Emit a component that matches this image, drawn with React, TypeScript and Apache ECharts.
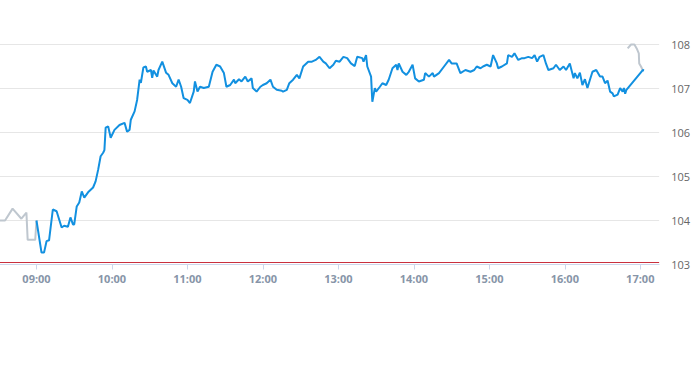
import React, { useEffect, useRef } from "react";
import * as echarts from "echarts";

const preTimes = ["08:30", "08:35", "08:41", "08:48", "08:52", "08:53", "08:59", "09:00"];
const preValues = [104.0, 104.0, 104.27, 104.04, 104.18, 103.56, 103.56, 104.0];

const postTimes = ["16:50:00", "16:52:40", "16:55:20", "16:57:10", "16:58:50", "16:59:10", "17:00:35", "17:01:55"];
const postValues = [107.91, 108.0, 108.0, 107.91, 107.8, 107.57, 107.5, 107.42];

const mainTimes = [
  "09:00", "09:04", "09:06", "09:08", "09:10", "09:13", "09:16", "09:20", "09:22", "09:25",
  "09:27", "09:29", "09:30", "09:32", "09:34", "09:36", "09:38", "09:41", "09:45", "09:47",
  "09:49", "09:51", "09:53", "09:54", "09:55", "09:57", "09:59", "10:02", "10:06", "10:10",
  "10:12", "10:14", "10:15", "10:18", "10:20", "10:22", "10:23", "10:25", "10:27", "10:28",
  "10:31", "10:32", "10:33", "10:36", "10:37", "10:40", "10:43", "10:45", "10:48", "10:51",
  "10:53", "10:55", "10:57", "11:00", "11:02", "11:05", "11:06", "11:08", "11:10", "11:13",
  "11:17", "11:20", "11:23", "11:26", "11:29", "11:31", "11:34", "11:37", "11:38", "11:41",
  "11:43", "11:46", "11:48", "11:51", "11:52", "11:55", "11:58", "12:00", "12:03", "12:06",
  "12:08", "12:11", "12:15", "12:16", "12:19", "12:21", "12:24", "12:27", "12:29", "12:32",
  "12:36", "12:39", "12:42", "12:45", "12:48", "12:50", "12:53", "12:56", "12:58", "13:01",
  "13:04", "13:07", "13:10", "13:13", "13:15", "13:19", "13:20", "13:22", "13:23", "13:26",
  "13:27", "13:29", "13:30", "13:33", "13:35", "13:38", "13:40", "13:43", "13:46", "13:47",
  "13:48", "13:51", "13:54", "13:56", "13:59", "14:01", "14:04", "14:08", "14:09", "14:12",
  "14:15", "14:16", "14:20", "14:24", "14:28", "14:30", "14:34", "14:37", "14:41", "14:45",
  "14:48", "14:50", "14:53", "14:55", "14:58", "15:01", "15:03", "15:06", "15:07", "15:10",
  "15:14", "15:15", "15:18", "15:20", "15:23", "15:26", "15:28", "15:31", "15:34", "15:36",
  "15:38", "15:40", "15:43", "15:45", "15:47", "15:51", "15:53", "15:56", "15:59", "16:01",
  "16:04", "16:07", "16:08", "16:10", "16:12", "16:14", "16:16", "16:18", "16:20", "16:22",
  "16:25", "16:28", "16:30", "16:32", "16:34", "16:36", "16:38", "16:39", "16:42", "16:44",
  "16:46", "16:47", "16:48", "16:49", "17:02", "17:03",
];
const mainValues = [
  104.0, 103.27, 103.27, 103.53, 103.55, 104.25, 104.21, 103.84, 103.88, 103.86,
  104.07, 103.91, 103.91, 104.32, 104.41, 104.66, 104.52, 104.64, 104.75, 104.89,
  105.15, 105.46, 105.54, 105.6, 106.11, 106.14, 105.88, 106.06, 106.17, 106.22,
  106.02, 106.06, 106.29, 106.48, 106.74, 107.2, 107.13, 107.48, 107.5, 107.38,
  107.42, 107.24, 107.41, 107.27, 107.42, 107.61, 107.36, 107.31, 107.12, 107.04,
  107.2, 107.04, 106.78, 106.74, 106.67, 106.93, 107.16, 106.93, 107.04, 107.01,
  107.04, 107.38, 107.54, 107.5, 107.35, 107.04, 107.08, 107.2, 107.12, 107.21,
  107.16, 107.27, 107.16, 107.23, 107.01, 106.93, 107.04, 107.08, 107.12, 107.2,
  107.04, 106.97, 106.95, 106.93, 106.97, 107.12, 107.2, 107.31, 107.23, 107.5,
  107.61, 107.61, 107.65, 107.72, 107.61, 107.57, 107.46, 107.54, 107.63, 107.61,
  107.72, 107.69, 107.57, 107.51, 107.72, 107.69, 107.61, 107.76, 107.5, 107.27,
  106.7, 107.01, 106.93, 107.04, 107.12, 107.08, 107.2, 107.46, 107.54, 107.42,
  107.57, 107.38, 107.31, 107.38, 107.54, 107.23, 107.16, 107.2, 107.35, 107.27,
  107.35, 107.27, 107.35, 107.5, 107.65, 107.57, 107.57, 107.35, 107.42, 107.38,
  107.42, 107.5, 107.46, 107.5, 107.54, 107.5, 107.76, 107.57, 107.46, 107.5,
  107.57, 107.76, 107.72, 107.8, 107.65, 107.69, 107.69, 107.72, 107.69, 107.76,
  107.61, 107.72, 107.76, 107.57, 107.42, 107.46, 107.54, 107.42, 107.5, 107.42,
  107.57, 107.23, 107.35, 107.23, 107.36, 107.08, 107.21, 107.01, 107.2, 107.38,
  107.42, 107.27, 107.27, 107.12, 107.18, 106.93, 106.89, 106.82, 106.86, 107.01,
  106.93, 107.01, 106.88, 106.97, 107.42, 107.41,
];

const tickTimes = ["09:00", "10:00", "11:00", "12:00", "13:00", "14:00", "15:00", "16:00", "17:00"];
const axisStart = "08:31";
const axisEnd = "17:15";
const yTicks = [103, 104, 105, 106, 107, 108];
const referenceLevel = 103.045;

function toMin(t: string): number {
  const p = t.split(":").map(Number);
  return p[0] * 60 + p[1] + (p[2] || 0) / 60;
}
function fmt(m: number): string {
  const h = Math.floor(m / 60);
  const mm = Math.round(m - h * 60);
  return String(h).padStart(2, "0") + ":" + String(mm).padStart(2, "0");
}
function pairs(ts: string[], vs: number[]) {
  return ts.map((t, i) => [toMin(t), vs[i]]);
}

export default function App() {
  const ref = useRef<HTMLDivElement>(null);
  useEffect(() => {
    if (!ref.current) return;
    const chart = echarts.init(ref.current, null, { renderer: "svg" });
    const ticks = tickTimes.map(toMin);
    chart.setOption({
      animation: false,
      grid: { left: 0, right: 30, top: 44.5, bottom: 100.5, containLabel: false },
      xAxis: {
        type: "value",
        min: toMin(axisStart),
        max: toMin(axisEnd),
        axisLine: { show: true, lineStyle: { color: "#ccd6eb", width: 1 } },
        axisTick: { show: true, length: 5, lineStyle: { color: "#ccd6eb" }, customValues: ticks },
        axisLabel: {
          customValues: ticks,
          formatter: (v: number) => fmt(v),
          color: "#8795a8",
          fontSize: 11,
          fontWeight: "bold",
          fontFamily: "Open Sans, sans-serif",
          margin: 8,
        },
        splitLine: { show: false },
      },
      yAxis: {
        type: "value",
        position: "right",
        min: yTicks[0],
        max: yTicks[yTicks.length - 1],
        interval: 1,
        axisLine: { show: false },
        axisTick: { show: false },
        axisLabel: {
          color: "#666666",
          fontSize: 11,
          fontFamily: "Open Sans, sans-serif",
          margin: 12,
          align: "left",
        },
        splitLine: { show: true, lineStyle: { color: "#e6e6e6", width: 1 } },
      },
      series: [
        {
          type: "line",
          data: pairs(preTimes, preValues),
          showSymbol: false,
          lineStyle: { color: "#bfc7cf", width: 2 },
          itemStyle: { color: "#bfc7cf" },
          z: 2,
        },
        {
          type: "line",
          data: pairs(postTimes, postValues),
          showSymbol: false,
          lineStyle: { color: "#bfc7cf", width: 2 },
          itemStyle: { color: "#bfc7cf" },
          clip: false,
          z: 2,
        },
        {
          type: "line",
          data: pairs(mainTimes, mainValues),
          showSymbol: false,
          lineStyle: { color: "#1290e0", width: 2 },
          itemStyle: { color: "#1290e0" },
          z: 3,
          markLine: {
            silent: true,
            symbol: "none",
            label: { show: false },
            lineStyle: { color: "#c9303e", width: 1, type: "solid" },
            data: [{ yAxis: referenceLevel }],
          },
        },
      ],
    });
    return () => chart.dispose();
  }, []);
  return (
    <div
      ref={ref}
      style={{ position: "absolute", left: 0, top: 0, width: 693, height: 365, background: "#fff" }}
    />
  );
}
